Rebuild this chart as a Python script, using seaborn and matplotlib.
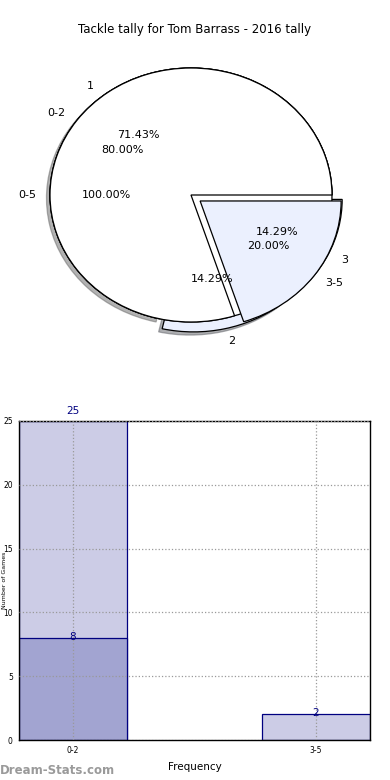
import matplotlib
matplotlib.use("Agg")
import matplotlib.pyplot as plt
import seaborn as sns
import pandas as pd

title = "Tackle tally for Tom Barrass - 2016 tally"

# pie rings (drawn on top of each other)
range_labels = ["0-5"]
range_counts = [7]
band_labels = ["0-2", "3-5"]
band_counts = [8, 2]
tackle_labels = ["1", "2", "3"]
tackle_counts = [5, 1, 1]

# bar chart
bar_cats = ["0-2", "3-5"]
bar_totals = [25, 2]
bar_inner_cats = ["0-2"]
bar_inner = [8]

sns.set_style("white")
plt.rcParams["font.family"] = ["DejaVu Sans"]
plt.rcParams["text.color"] = "black"
plt.rcParams["axes.labelcolor"] = "black"
plt.rcParams["xtick.color"] = "black"
plt.rcParams["ytick.color"] = "black"

pale_blue = "#ebf0fe"
light_bar = "#ccccE6"
dark_bar = "#a2a4d1"
navy = "#000080"

fig = plt.figure(figsize=(3.9, 7.8), dpi=100)

# ---- pie ----
ax1 = fig.add_axes([0, (780 - 350) / 780, 1, 310 / 780])
wp = {"edgecolor": "black", "linewidth": 0.9}
tp = {"fontsize": 8, "color": "black"}
ax1.pie(tackle_counts, labels=tackle_labels, autopct="%1.2f%%",
        explode=[0, 0.08, 0.08], colors=["white", pale_blue, pale_blue],
        shadow={"ox": -0.018, "oy": -0.018, "shade": 0.6},
        wedgeprops=wp, textprops=tp)
ax1.pie(range_counts, labels=range_labels, autopct="%1.2f%%",
        colors=["white"], wedgeprops=wp, textprops=tp)
ax1.pie(band_counts, labels=band_labels, autopct="%1.2f%%",
        explode=[0, 0.08], colors=["white", pale_blue],
        wedgeprops=wp, textprops=tp)
ax1.set_aspect("auto")
ax1.set_xlim(-191 / 141, 199 / 141)
ax1.set_ylim(-155 / 127, 155 / 127)
ax1.axis("off")

fig.text(195 / 390, 1 - 30 / 780, title, ha="center", va="center",
         fontsize=8.5, color="black")

# ---- bars ----
ax2 = fig.add_axes([19 / 390, 40 / 780, 351 / 390, 319 / 780])
sns.barplot(x=bar_cats, y=bar_totals, order=bar_cats, color=light_bar,
            saturation=1, width=0.444, edgecolor=navy, linewidth=0.9, ax=ax2)
sns.barplot(x=bar_inner_cats, y=bar_inner, order=bar_cats, color=dark_bar,
            saturation=1, width=0.444, edgecolor=navy, linewidth=0.9, ax=ax2)

ymax = 25
for i, v in enumerate(bar_totals):
    off = 7 if v >= ymax else 1
    ax2.annotate(str(v), (i, v), xytext=(0, off), textcoords="offset points",
                 ha="center", va="center", color=navy, fontsize=7.5,
                 annotation_clip=False)
for c, v in zip(bar_inner_cats, bar_inner):
    ax2.annotate(str(v), (bar_cats.index(c), v), xytext=(0, 1),
                 textcoords="offset points", ha="center", va="center",
                 color=navy, fontsize=7.5)

ax2.set_xlim(-0.222, 1.222)
ax2.set_ylim(0, ymax)
ax2.set_yticks([0, 5, 10, 15, 20, 25])
ax2.grid(True, linestyle=":", color="#999999", linewidth=0.9)
ax2.set_axisbelow(False)
for s in ax2.spines.values():
    s.set_color("black")
    s.set_linewidth(1)
ax2.tick_params(axis="both", labelsize=5.5, length=3, color="#aaaaaa",
                labelcolor="black", direction="out", pad=1.5)
ax2.set_xlabel("Frequency", fontsize=7.5, labelpad=5)
ax2.set_ylabel("Number of Games", fontsize=4.5)
ax2.yaxis.set_label_coords(-0.035, 0.5)

fig.text(0.0, 1 - 771 / 780, "Dream-Stats.com", ha="left", va="center",
         fontsize=8.5, color="#9a9a9a", fontweight="bold")

fig.savefig("out.png", dpi=100)
